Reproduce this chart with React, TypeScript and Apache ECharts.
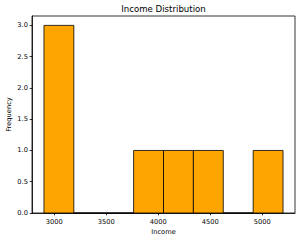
import React, { useEffect, useRef } from "react";
import * as echarts from "echarts";

const binEdges = [2900, 3187.5, 3475, 3762.5, 4050, 4337.5, 4625, 4912.5, 5200];
const counts = [3, 0, 0, 1, 1, 1, 0, 1];
const xTicks = [3000, 3500, 4000, 4500, 5000];
const yTicks = [0, 0.5, 1.0, 1.5, 2.0, 2.5, 3.0];

const FONT = "DejaVu Sans";

export default function App() {
  const ref = useRef<HTMLDivElement>(null);
  useEffect(() => {
    if (!ref.current) return;
    const chart = echarts.init(ref.current, undefined, { renderer: "svg" });
    const data = counts.map((c, i) => [binEdges[i], binEdges[i + 1], c]);
    chart.setOption({
      animation: false,
      backgroundColor: "#fff",
      title: {
        text: "Income Distribution",
        left: 163.5,
        textAlign: "center",
        top: 4,
        padding: 0,
        textStyle: { fontFamily: FONT, fontSize: 8.6, fontWeight: "normal", color: "#000" },
      },
      grid: {
        left: 32,
        right: 5,
        top: 16,
        bottom: 28,
        containLabel: false,
        outerBoundsMode: "none",
        show: true,
        borderColor: "#000",
        borderWidth: 0.8,
        backgroundColor: "transparent",
      },
      xAxis: {
        type: "value",
        min: 2785,
        max: 5315,
        name: "Income",
        nameLocation: "middle",
        nameGap: 15,
        nameMoveOverlap: false,
        nameTextStyle: { fontFamily: FONT, fontSize: 6.7, color: "#000" },
        axisLine: { show: true, lineStyle: { color: "#000", width: 0.8 } },
        axisTick: { show: true, length: 2.3, lineStyle: { color: "#000", width: 0.8 }, customValues: xTicks },
        axisLabel: {
          fontFamily: FONT,
          fontSize: 6.7,
          color: "#000",
          margin: 5,
          customValues: xTicks,
          formatter: (v: number) => String(v),
        },
        splitLine: { show: false },
      },
      yAxis: {
        type: "value",
        min: 0,
        max: 3.15,
        name: "Frequency",
        nameLocation: "middle",
        nameGap: 20,
        nameMoveOverlap: false,
        nameTextStyle: { fontFamily: FONT, fontSize: 6.7, color: "#000" },
        axisLine: { show: true, lineStyle: { color: "#000", width: 0.8 } },
        axisTick: { show: true, length: 2.3, lineStyle: { color: "#000", width: 0.8 }, customValues: yTicks },
        axisLabel: {
          fontFamily: FONT,
          fontSize: 6.7,
          color: "#000",
          margin: 4,
          customValues: yTicks,
          formatter: (v: number) => v.toFixed(1),
        },
        splitLine: { show: false },
      },
      series: [
        {
          type: "custom",
          data,
          encode: { x: [0, 1], y: 2 },
          renderItem: (params: any, api: any) => {
            const x0 = api.value(0);
            const x1 = api.value(1);
            const c = api.value(2);
            const p0 = api.coord([x0, c]);
            const p1 = api.coord([x1, 0]);
            return {
              type: "rect",
              shape: { x: p0[0], y: p0[1], width: p1[0] - p0[0], height: p1[1] - p0[1] },
              style: { fill: "#FFA500", stroke: "#000", lineWidth: 0.8 },
            };
          },
        },
      ],
    });
    return () => chart.dispose();
  }, []);
  return <div ref={ref} style={{ position: "fixed", left: 0, top: 0, width: 300, height: 241 }} />;
}
